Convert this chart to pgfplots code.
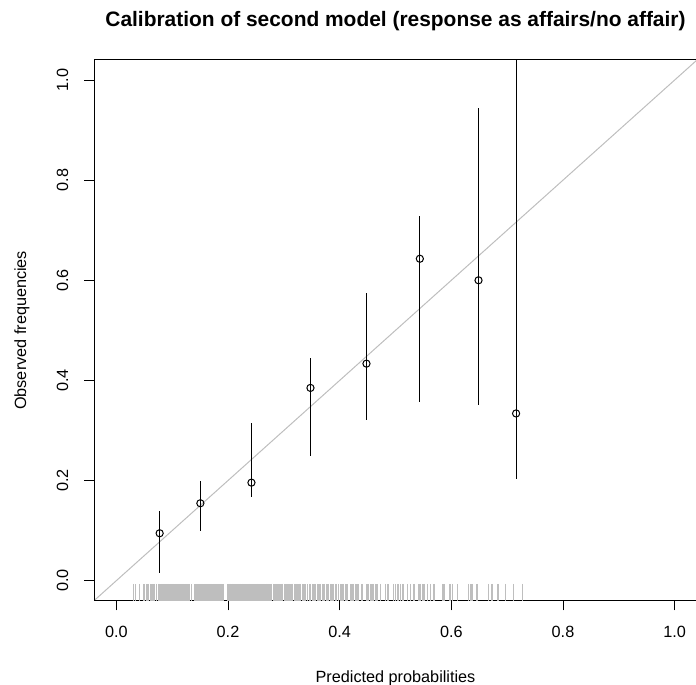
\documentclass[border=0pt]{standalone}
\usepackage{fontspec}
\setmainfont{Liberation Sans}
\usepackage{pgfplots}
\usepackage{pgfplotstable}
\pgfplotsset{compat=1.18}
\definecolor{rgray}{HTML}{BEBEBE}

% calibration bins: mean predicted, observed frequency, interval
\pgfplotstableread{
p       obs     lo      hi
0.0776  0.0947  0.016   0.139
0.1505  0.1546  0.0999  0.199
0.242   0.1958  0.168   0.314
0.3477  0.385   0.249   0.445
0.448   0.4335  0.321   0.574
0.5436  0.643   0.3576  0.7285
0.6487  0.600   0.3516  0.9437
0.716   0.334   0.203   1.04
}\calib

% predicted probabilities (rug), drawn just above the bottom edge
\pgfplotstableread{
p      r
0.031  -0.0233
0.035  -0.0233
0.041  -0.0233
0.048  -0.0233
0.051  -0.0233
0.055  -0.0233
0.058  -0.0233
0.061  -0.0233
0.064  -0.0233
0.066  -0.0233
0.069  -0.0233
0.072  -0.0233
0.075  -0.0233
0.077  -0.0233
0.080  -0.0233
0.082  -0.0233
0.084  -0.0233
0.086  -0.0233
0.088  -0.0233
0.090  -0.0233
0.092  -0.0233
0.094  -0.0233
0.096  -0.0233
0.098  -0.0233
0.100  -0.0233
0.102  -0.0233
0.105  -0.0233
0.107  -0.0233
0.109  -0.0233
0.111  -0.0233
0.113  -0.0233
0.115  -0.0233
0.117  -0.0233
0.119  -0.0233
0.121  -0.0233
0.123  -0.0233
0.125  -0.0233
0.127  -0.0233
0.129  -0.0233
0.131  -0.0233
0.134  -0.0233
0.141  -0.0233
0.143  -0.0233
0.145  -0.0233
0.147  -0.0233
0.149  -0.0233
0.151  -0.0233
0.153  -0.0233
0.155  -0.0233
0.157  -0.0233
0.159  -0.0233
0.161  -0.0233
0.163  -0.0233
0.165  -0.0233
0.167  -0.0233
0.169  -0.0233
0.171  -0.0233
0.173  -0.0233
0.175  -0.0233
0.177  -0.0233
0.179  -0.0233
0.181  -0.0233
0.183  -0.0233
0.185  -0.0233
0.187  -0.0233
0.189  -0.0233
0.191  -0.0233
0.199  -0.0233
0.201  -0.0233
0.202  -0.0233
0.204  -0.0233
0.205  -0.0233
0.207  -0.0233
0.208  -0.0233
0.210  -0.0233
0.212  -0.0233
0.214  -0.0233
0.215  -0.0233
0.217  -0.0233
0.218  -0.0233
0.220  -0.0233
0.222  -0.0233
0.223  -0.0233
0.225  -0.0233
0.226  -0.0233
0.228  -0.0233
0.230  -0.0233
0.231  -0.0233
0.233  -0.0233
0.234  -0.0233
0.236  -0.0233
0.238  -0.0233
0.239  -0.0233
0.241  -0.0233
0.242  -0.0233
0.244  -0.0233
0.246  -0.0233
0.247  -0.0233
0.249  -0.0233
0.250  -0.0233
0.252  -0.0233
0.253  -0.0233
0.255  -0.0233
0.257  -0.0233
0.258  -0.0233
0.260  -0.0233
0.261  -0.0233
0.264  -0.0233
0.266  -0.0233
0.268  -0.0233
0.269  -0.0233
0.271  -0.0233
0.272  -0.0233
0.275  -0.0233
0.277  -0.0233
0.278  -0.0233
0.281  -0.0233
0.283  -0.0233
0.285  -0.0233
0.286  -0.0233
0.289  -0.0233
0.291  -0.0233
0.292  -0.0233
0.295  -0.0233
0.297  -0.0233
0.298  -0.0233
0.301  -0.0233
0.303  -0.0233
0.304  -0.0233
0.307  -0.0233
0.309  -0.0233
0.310  -0.0233
0.313  -0.0233
0.315  -0.0233
0.316  -0.0233
0.319  -0.0233
0.321  -0.0233
0.322  -0.0233
0.325  -0.0233
0.327  -0.0233
0.328  -0.0233
0.330  -0.0233
0.333  -0.0233
0.336  -0.0233
0.339  -0.0233
0.343  -0.0233
0.346  -0.0233
0.348  -0.0233
0.351  -0.0233
0.354  -0.0233
0.357  -0.0233
0.360  -0.0233
0.363  -0.0233
0.366  -0.0233
0.369  -0.0233
0.372  -0.0233
0.376  -0.0233
0.379  -0.0233
0.384  -0.0233
0.386  -0.0233
0.388  -0.0233
0.392  -0.0233
0.395  -0.0233
0.398  -0.0233
0.401  -0.0233
0.404  -0.0233
0.407  -0.0233
0.410  -0.0233
0.413  -0.0233
0.419  -0.0233
0.422  -0.0233
0.425  -0.0233
0.428  -0.0233
0.431  -0.0233
0.434  -0.0233
0.440  -0.0233
0.449  -0.0233
0.452  -0.0233
0.455  -0.0233
0.458  -0.0233
0.461  -0.0233
0.464  -0.0233
0.467  -0.0233
0.473  -0.0233
0.482  -0.0233
0.485  -0.0233
0.488  -0.0233
0.497  -0.0233
0.500  -0.0233
0.503  -0.0233
0.506  -0.0233
0.509  -0.0233
0.512  -0.0233
0.515  -0.0233
0.521  -0.0233
0.527  -0.0233
0.533  -0.0233
0.542  -0.0233
0.545  -0.0233
0.548  -0.0233
0.551  -0.0233
0.557  -0.0233
0.563  -0.0233
0.569  -0.0233
0.584  -0.0233
0.587  -0.0233
0.596  -0.0233
0.599  -0.0233
0.602  -0.0233
0.611  -0.0233
0.631  -0.0233
0.634  -0.0233
0.637  -0.0233
0.646  -0.0233
0.667  -0.0233
0.673  -0.0233
0.682  -0.0233
0.685  -0.0233
0.697  -0.0233
0.712  -0.0233
0.727  -0.0233
}\rugdata

\begin{document}
\begin{tikzpicture}
\useasboundingbox (0,0) rectangle (696bp,685bp);
\begin{axis}[
  at={(94bp,84.3bp)}, anchor=south west,
  scale only axis, width=603bp, height=540.7bp,
  xmin=-0.04, xmax=1.04, ymin=-0.04, ymax=1.04,
  axis on top, clip=true,
  axis line style={line width=1bp},
  xtick={0,0.2,0.4,0.6,0.8,1}, xticklabels={0.0,0.2,0.4,0.6,0.8,1.0},
  ytick={0,0.2,0.4,0.6,0.8,1}, yticklabels={0.0,0.2,0.4,0.6,0.8,1.0},
  xtick pos=left, ytick pos=left,
  tick align=outside, major tick length=9.6bp,
  tick style={black, line width=1bp},
  tick label style={font=\fontsize{16.3}{19}\selectfont},
  xticklabel style={anchor=base, yshift=-27.4bp},
  yticklabel style={xshift=-16.4bp, rotate=90, anchor=base},
  title={Calibration of second model (response as affairs/no affair)},
  title style={at={(0.5,1)}, anchor=base, yshift=28bp,
    font=\fontsize{21}{25}\selectfont\bfseries},
  xlabel={Predicted probabilities},
  ylabel={Observed frequencies},
  every axis x label/.style={at={(axis description cs:0.5,-0.1504)}, anchor=base,
    font=\fontsize{16.3}{19}\selectfont},
  every axis y label/.style={at={(axis description cs:-0.11277,0.5)}, rotate=90, anchor=base,
    font=\fontsize{16.3}{19}\selectfont},
]
\addplot[only marks, mark=|, mark size=8.35bp,
  mark options={rgray, line width=1.2bp}]
  table[x=p, y=r] {\rugdata};

\addplot[rgray, line width=1bp] coordinates {(-0.04,-0.04) (1.04,1.04)};

\addplot[only marks, mark=o, mark size=3.6bp,
  mark options={black, line width=1bp},
  error bars/.cd, y dir=both, y explicit, error mark=none,
  error bar style={black, line width=1bp}]
  table[x=p, y=obs,
    y error plus expr=\thisrow{hi}-\thisrow{obs},
    y error minus expr=\thisrow{obs}-\thisrow{lo}] {\calib};
\end{axis}
\end{tikzpicture}
\end{document}
